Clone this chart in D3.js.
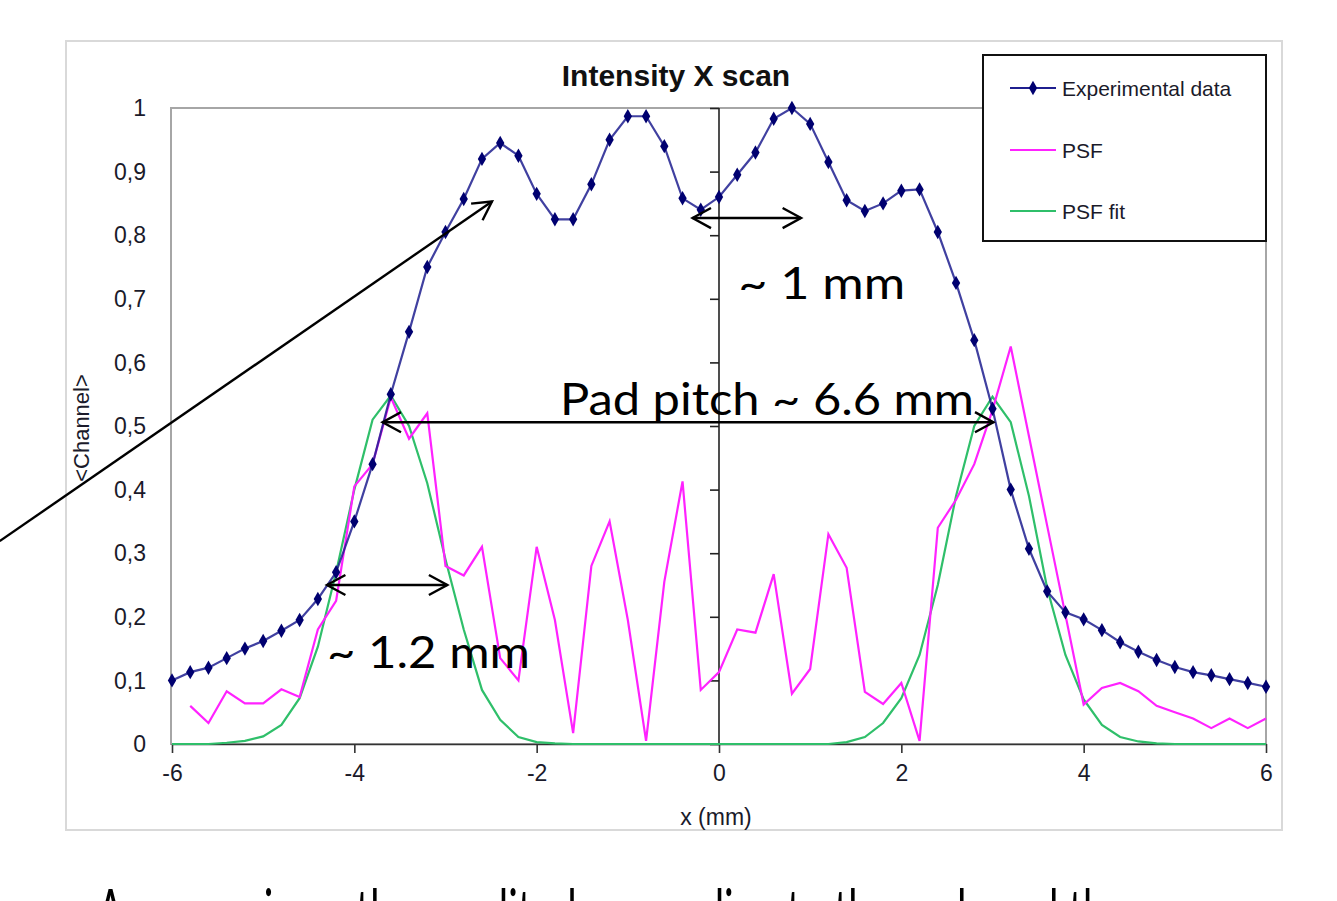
<!DOCTYPE html>
<html>
<head>
<meta charset="utf-8">
<script src="https://cdnjs.cloudflare.com/ajax/libs/d3/7.8.5/d3.min.js"></script>
<style>
  html, body { margin: 0; padding: 0; background: #fff; overflow: hidden; }
  svg { display: block; }
</style>
</head>
<body>
<svg id="chart" width="1337" height="901"></svg>
<script>
// x positions of the scan (mm)
const xPos = [-6.0,-5.8,-5.6,-5.4,-5.2,-5.0,-4.8,-4.6,-4.4,-4.2,-4.0,-3.8,-3.6,-3.4,-3.2,-3.0,-2.8,-2.6,-2.4,-2.2,
  -2.0,-1.8,-1.6,-1.4,-1.2,-1.0,-0.8,-0.6,-0.4,-0.2,0.0,0.2,0.4,0.6,0.8,1.0,1.2,1.4,1.6,1.8,
  2.0,2.2,2.4,2.6,2.8,3.0,3.2,3.4,3.6,3.8,4.0,4.2,4.4,4.6,4.8,5.0,5.2,5.4,5.6,5.8,6.0];

// Experimental data (one value per xPos)
const expData = [0.100,0.113,0.120,0.135,0.150,0.162,0.178,0.195,0.228,0.270,0.350,0.440,0.550,0.648,0.750,0.805,0.857,0.920,0.945,0.925,
  0.865,0.825,0.825,0.880,0.950,0.987,0.987,0.940,0.858,0.840,0.860,0.895,0.930,0.983,1.000,0.975,0.915,0.855,0.838,0.850,
  0.870,0.872,0.805,0.725,0.635,0.527,0.400,0.307,0.240,0.207,0.196,0.179,0.160,0.145,0.132,0.121,0.113,0.108,0.102,0.096,0.090];

// PSF, starts at x = -5.8
const psfData = [0.060,0.033,0.083,0.064,0.064,0.086,0.074,0.180,0.225,0.405,0.440,0.545,0.480,0.520,0.280,0.265,0.310,0.135,0.100,
  0.310,0.195,0.017,0.280,0.350,0.195,0.005,0.255,0.413,0.085,0.113,0.180,0.175,0.267,0.079,0.118,0.330,0.277,0.082,0.063,
  0.096,0.005,0.340,0.384,0.440,0.525,0.625,0.484,0.343,0.203,0.062,0.088,0.096,0.083,0.060,0.050,0.040,0.025,0.040,0.025,0.040];

// PSF fit (one value per xPos)
const fitData = [0,0,0,0.002,0.005,0.012,0.030,0.072,0.153,0.270,0.400,0.510,0.548,0.500,0.410,0.290,0.180,0.085,0.038,0.011,
  0.003,0.001,0,0,0,0,0,0,0,0,0,0,0,0,0,0,0,0.003,0.011,0.033,
  0.072,0.140,0.250,0.390,0.500,0.546,0.506,0.390,0.245,0.140,0.070,0.030,0.011,0.004,0.001,0,0,0,0,0,0];

const xTicks = [-6, -4, -2, 0, 2, 4, 6];
const yTicks = [0, 0.1, 0.2, 0.3, 0.4, 0.5, 0.6, 0.7, 0.8, 0.9, 1];
const yTickLabels = ["0", "0,1", "0,2", "0,3", "0,4", "0,5", "0,6", "0,7", "0,8", "0,9", "1"];

const legendNames = ["Experimental data", "PSF", "PSF fit"];
const colors = { exp: "#1f1f8f", expMarker: "#000070", psf: "#ff22ff", fit: "#2fbf6a" };

// annotations in data units: [x0, y0, x1, y1, doubleHeaded]
const arrows = [
  [-7.89, 0.319, -2.49, 0.853, false],
  [-0.29, 0.827, 0.90, 0.827, true],
  [-3.69, 0.506, 3.01, 0.506, true],
  [-4.30, 0.250, -2.98, 0.250, true]
];
// [text, x, baseline y, width in px]
const notes = [
  ["~ 1 mm", 0.21, 0.700, 167],
  ["Pad pitch ~ 6.6 mm", -1.745, 0.518, 414],
  ["~ 1.2 mm", -4.30, 0.120, 203]
];

const svg = d3.select("#chart");
const x = d3.scaleLinear().domain([-6, 6]).range([172, 1266]);
const y = d3.scaleLinear().domain([0, 1]).range([744, 108]);
const sans = "'Liberation Sans', Arial, sans-serif";

// chart area frame
svg.append("rect")
  .attr("x", 66).attr("y", 41).attr("width", 1216).attr("height", 789)
  .attr("fill", "#fff").attr("stroke", "#d9d9d9").attr("stroke-width", 2);

// plot area frame
svg.append("rect")
  .attr("x", x(-6) - 1).attr("y", y(1)).attr("width", x(6) - x(-6) + 1).attr("height", y(0) - y(1))
  .attr("fill", "none").attr("stroke", "#a6a6a6").attr("stroke-width", 2);

// title
svg.append("text")
  .attr("x", 676).attr("y", 86).attr("text-anchor", "middle")
  .style("font-family", sans).style("font-weight", "bold").style("font-size", "30px")
  .attr("fill", "#111").text("Intensity X scan");

// y axis, crossing at x = 0
const yAxis = svg.append("g")
  .attr("transform", `translate(${x(0)},0)`)
  .call(d3.axisLeft(y).tickValues(yTicks).tickSize(9).tickFormat(""));
yAxis.selectAll("path, line").attr("stroke", "#222").attr("stroke-width", 1.6);
yAxis.select(".domain").attr("d", `M0,${y(0)}V${y(1)}`);

// y tick labels at the left of the plot area
svg.append("g").selectAll("text")
  .data(yTicks)
  .join("text")
  .attr("x", 146).attr("y", d => y(d)).attr("dy", "0.36em")
  .attr("text-anchor", "end")
  .style("font-family", sans).style("font-size", "23px").attr("fill", "#1a1a2a")
  .text((d, i) => yTickLabels[i]);

// x axis
const xAxis = svg.append("g")
  .attr("transform", `translate(0,${y(0)})`)
  .call(d3.axisBottom(x).tickValues(xTicks).tickSize(9).tickSizeOuter(0).tickPadding(12)
    .tickFormat(d => d3.format("d")(d).replace("−", "-")));
xAxis.selectAll("path, line").attr("stroke", "#333").attr("stroke-width", 1.6);
xAxis.selectAll("text")
  .style("font-family", sans).style("font-size", "23px").attr("fill", "#1a1a2a");

// axis titles
svg.append("text")
  .attr("x", 716).attr("y", 825).attr("text-anchor", "middle")
  .style("font-family", sans).style("font-size", "23px").attr("fill", "#1a1a2a")
  .text("x (mm)");
svg.append("text")
  .attr("transform", "translate(89,428) rotate(-90)").attr("text-anchor", "middle")
  .style("font-family", sans).style("font-size", "22px").attr("fill", "#1a1a2a")
  .text("<Channel>");

// series
const line = d3.line().x(d => x(d[0])).y(d => y(d[1]));
const fitPts = xPos.map((v, i) => [v, fitData[i]]);
const psfPts = psfData.map((v, i) => [xPos[i + 1], v]);
const expPts = xPos.map((v, i) => [v, expData[i]]);

svg.append("path").datum(fitPts).attr("d", line)
  .attr("fill", "none").attr("stroke", colors.fit).attr("stroke-width", 2.2);
svg.append("path").datum(psfPts).attr("d", line)
  .attr("fill", "none").attr("stroke", colors.psf).attr("stroke-width", 2.2);
svg.append("path").datum(expPts).attr("d", line)
  .attr("fill", "none").attr("stroke", colors.exp).attr("stroke-width", 2.2).attr("stroke-opacity", 0.85);

const diamond = d3.symbol().type(d3.symbolDiamond).size(60);
svg.append("g").selectAll("path")
  .data(expPts)
  .join("path")
  .attr("transform", d => `translate(${x(d[0])},${y(d[1])})`)
  .attr("d", diamond)
  .attr("fill", colors.expMarker);

// legend
const legend = svg.append("g");
legend.append("rect")
  .attr("x", 983).attr("y", 55).attr("width", 283).attr("height", 186)
  .attr("fill", "#fff").attr("stroke", "#111").attr("stroke-width", 2);
const legendColors = [colors.exp, colors.psf, colors.fit];
const legendY = [88, 150, 211];
legendNames.forEach((name, i) => {
  legend.append("line")
    .attr("x1", 1010).attr("x2", 1056).attr("y1", legendY[i]).attr("y2", legendY[i])
    .attr("stroke", legendColors[i]).attr("stroke-width", 2);
  if (i === 0) {
    legend.append("path")
      .attr("transform", `translate(1033,${legendY[i]})`)
      .attr("d", diamond).attr("fill", colors.expMarker);
  }
  legend.append("text")
    .attr("x", 1062).attr("y", legendY[i]).attr("dy", "0.36em")
    .style("font-family", sans).style("font-size", "21px").attr("fill", "#1a1a2a")
    .text(name);
});

// annotation arrows
function head(g, tipX, tipY, fromX, fromY) {
  const a = Math.atan2(tipY - fromY, tipX - fromX);
  const len = 21, spread = 0.5;
  const p = [
    [tipX - len * Math.cos(a - spread), tipY - len * Math.sin(a - spread)],
    [tipX, tipY],
    [tipX - len * Math.cos(a + spread), tipY - len * Math.sin(a + spread)]
  ];
  g.append("path").attr("d", d3.line()(p))
    .attr("fill", "none").attr("stroke", "#000").attr("stroke-width", 2.4);
}
const ann = svg.append("g");
arrows.forEach(([x0, y0, x1, y1, both]) => {
  const px0 = x(x0), py0 = y(y0), px1 = x(x1), py1 = y(y1);
  ann.append("line")
    .attr("x1", px0).attr("y1", py0).attr("x2", px1).attr("y2", py1)
    .attr("stroke", "#000").attr("stroke-width", 2.4);
  head(ann, px1, py1, px0, py0);
  if (both) head(ann, px0, py0, px1, py1);
});

notes.forEach(([t, nx, ny, w]) => {
  ann.append("text")
    .attr("x", x(nx)).attr("y", y(ny))
    .attr("textLength", w).attr("lengthAdjust", "spacingAndGlyphs")
    .style("font-family", "Lato, 'Open Sans', sans-serif").style("font-size", "45px")
    .attr("fill", "#000").text(t);
});

// caption below the chart, only the top of its letters falls inside the picture
svg.append("text")
  .attr("x", 97).attr("y", 935)
  .attr("textLength", 1118).attr("lengthAdjust", "spacingAndGlyphs")
  .style("font-family", "Lato, 'Open Sans', sans-serif").style("font-size", "64px")
  .attr("fill", "#000")
  .text("A comparison: the amplitude according to the pads and the scan");
</script>
</body>
</html>
